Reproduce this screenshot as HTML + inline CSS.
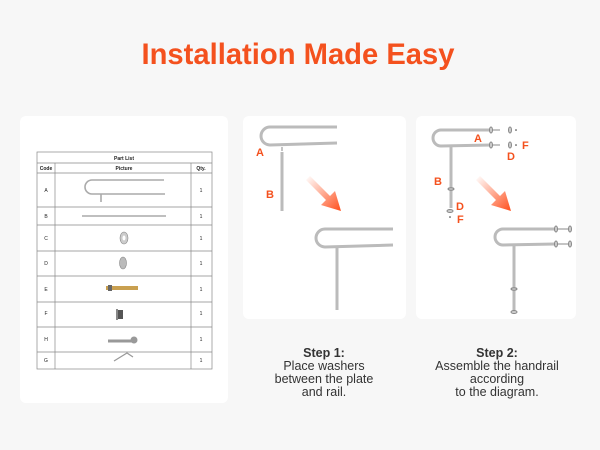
<!DOCTYPE html>
<html><head><meta charset="utf-8"><style>
html,body{margin:0;padding:0;background:#f7f7f7;}
svg{display:block;font-family:"Liberation Sans",sans-serif;}
</style></head><body>
<svg width="600" height="450" viewBox="0 0 600 450" xmlns="http://www.w3.org/2000/svg">
<defs>
<linearGradient id="ar" x1="0" y1="0" x2="1" y2="1">
<stop offset="0" stop-color="#ff5a2a" stop-opacity="0"/>
<stop offset="1" stop-color="#ff4d1a"/>
</linearGradient>
</defs>
<rect width="600" height="450" fill="#f7f7f7"/>
<text x="298" y="64" text-anchor="middle" font-size="30" font-weight="bold" fill="#f4511e" textLength="313" lengthAdjust="spacingAndGlyphs">Installation Made Easy</text>

<rect x="20" y="116" width="208" height="287" rx="6" fill="#fff"/>
<rect x="243" y="116" width="163" height="203" rx="6" fill="#fff"/>
<rect x="416" y="116" width="160" height="203" rx="6" fill="#fff"/>

<g stroke="#888" stroke-width="0.7" fill="none">
<rect x="37" y="152" width="175" height="217"/>
<line x1="37" y1="163" x2="212" y2="163"/>
<line x1="37" y1="173" x2="212" y2="173"/>
<line x1="37" y1="207" x2="212" y2="207"/>
<line x1="37" y1="225" x2="212" y2="225"/>
<line x1="37" y1="251" x2="212" y2="251"/>
<line x1="37" y1="276" x2="212" y2="276"/>
<line x1="37" y1="302" x2="212" y2="302"/>
<line x1="37" y1="327" x2="212" y2="327"/>
<line x1="37" y1="352" x2="212" y2="352"/>
<line x1="55" y1="163" x2="55" y2="369"/>
<line x1="191" y1="163" x2="191" y2="369"/>
</g>
<g font-size="5" fill="#222" text-anchor="middle">
<text x="124" y="160" font-weight="bold">Part List</text>
<text x="46" y="170" font-weight="bold">Code</text>
<text x="124" y="170" font-weight="bold">Picture</text>
<text x="201" y="170" font-weight="bold">Qty.</text>
<text x="46" y="192">A</text><text x="201" y="192">1</text>
<text x="46" y="218">B</text><text x="201" y="218">1</text>
<text x="46" y="240">C</text><text x="201" y="240">1</text>
<text x="46" y="265">D</text><text x="201" y="265">1</text>
<text x="46" y="291">E</text><text x="201" y="291">1</text>
<text x="46" y="315">F</text><text x="201" y="315">1</text>
<text x="46" y="341">H</text><text x="201" y="341">1</text>
<text x="46" y="362">G</text><text x="201" y="362">1</text>
</g>
<g fill="none" stroke="#aaa" stroke-width="1.6">
<path d="M164 180 H92 a7 7 0 0 0 0 14 H165"/>
<line x1="101" y1="194" x2="101" y2="202"/>
<line x1="82" y1="216" x2="166" y2="216"/>
</g>
<ellipse cx="124" cy="238" rx="4" ry="6" fill="#ccc" stroke="#888" stroke-width="0.6"/>
<ellipse cx="124" cy="238" rx="1.5" ry="2.5" fill="#fff"/>
<ellipse cx="123" cy="263" rx="3.5" ry="6" fill="#bbb" stroke="#888" stroke-width="0.6"/>
<rect x="106" y="286" width="32" height="4" fill="#c9a050"/>
<rect x="108" y="285" width="4" height="6" fill="#666"/>
<rect x="118" y="310" width="5" height="9" fill="#555"/>
<rect x="116" y="309" width="2" height="11" fill="#888"/>
<path d="M108 341 H132" stroke="#999" stroke-width="3"/>
<circle cx="134" cy="340" r="3.5" fill="#999"/>
<path d="M114 361 L127 353 L133 357" stroke="#999" stroke-width="1.2" fill="none"/>

<g fill="none" stroke="#bbb" stroke-width="3">
<path d="M337 127 H270 a9 9 0 0 0 0 18 L337 143"/>
<line x1="282" y1="152" x2="282" y2="211"/>
<path d="M393 229 H325 a9 9 0 0 0 0 18 L393 245"/>
<line x1="337" y1="247" x2="337" y2="310"/>
</g>
<line x1="282" y1="147" x2="282" y2="151" stroke="#888" stroke-width="1"/>
<path d="M310 176 L330 196 L335 191 L341 211 L321 205 L326 200 L306 180 Z" fill="url(#ar)"/>
<g fill="#f4511e" font-weight="bold" font-size="11">
<text x="256" y="156">A</text>
<text x="266" y="198">B</text>
</g>

<g fill="none" stroke="#bbb" stroke-width="3">
<path d="M491 130 H441 a8 8 0 0 0 0 16 L491 145"/>
<line x1="451" y1="146" x2="451" y2="208"/>
<path d="M555 229 H503 a8 8 0 0 0 0 16 L555 244"/>
<line x1="514" y1="245" x2="514" y2="312"/>
</g>
<g stroke="#888" stroke-width="1" fill="#ccc">
<line x1="492" y1="130" x2="500" y2="130"/><line x1="492" y1="145" x2="500" y2="145"/>
<ellipse cx="491" cy="130" rx="1.5" ry="3"/><ellipse cx="491" cy="145" rx="1.5" ry="3"/>
<ellipse cx="510" cy="130" rx="1.5" ry="3"/><ellipse cx="510" cy="145" rx="1.5" ry="3"/>
<ellipse cx="451" cy="189" rx="3" ry="1.2"/><ellipse cx="450" cy="211" rx="3" ry="1.5"/>
<line x1="555" y1="229" x2="570" y2="229"/><line x1="555" y1="244" x2="570" y2="244"/>
<ellipse cx="556" cy="229" rx="1.5" ry="3"/><ellipse cx="556" cy="244" rx="1.5" ry="3"/>
<ellipse cx="570" cy="229" rx="1.5" ry="3"/><ellipse cx="570" cy="244" rx="1.5" ry="3"/>
<ellipse cx="514" cy="289" rx="3" ry="1.2"/><ellipse cx="514" cy="312" rx="3" ry="1.5"/>
</g>
<circle cx="516" cy="130" r="0.8" fill="#333"/><circle cx="516" cy="145" r="0.8" fill="#333"/>
<circle cx="450" cy="217" r="0.8" fill="#333"/>
<path d="M480 176 L500 196 L505 191 L511 211 L491 205 L496 200 L476 180 Z" fill="url(#ar)"/>
<g fill="#f4511e" font-weight="bold" font-size="11">
<text x="474" y="142">A</text>
<text x="522" y="149">F</text>
<text x="507" y="160">D</text>
<text x="434" y="185">B</text>
<text x="456" y="210">D</text>
<text x="457" y="223">F</text>
</g>

<g font-size="12.5" fill="#333" text-anchor="middle">
<text x="324" y="357" font-weight="bold">Step 1:</text>
<text x="324" y="370">Place washers</text>
<text x="324" y="383">between the plate</text>
<text x="324" y="396">and rail.</text>
<text x="497" y="357" font-weight="bold">Step 2:</text>
<text x="497" y="370">Assemble the handrail</text>
<text x="497" y="383">according</text>
<text x="497" y="396">to the diagram.</text>
</g>
</svg>
</body></html>
